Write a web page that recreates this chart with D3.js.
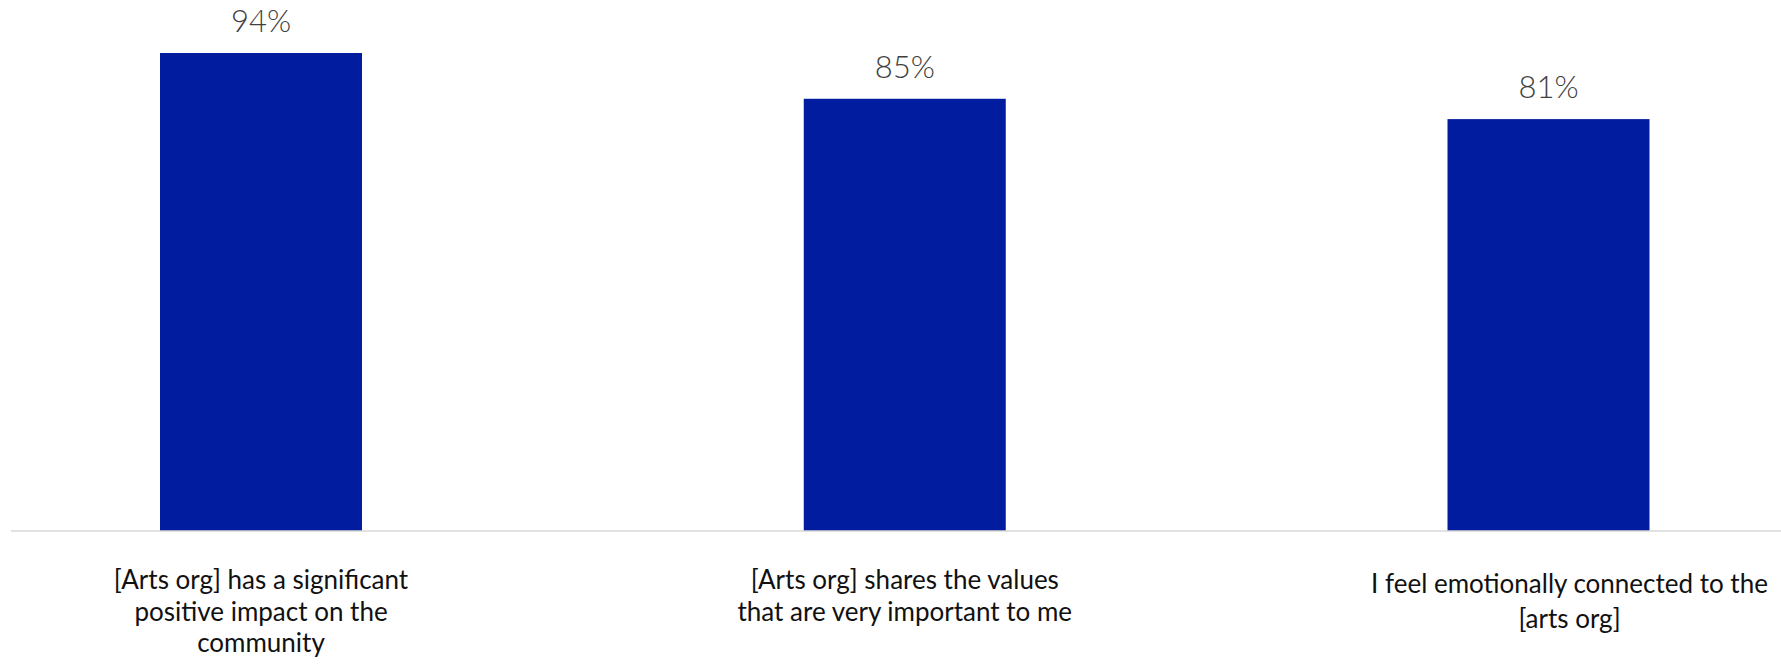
<!DOCTYPE html>
<html>
<head>
<meta charset="utf-8">
<script src="https://cdn.jsdelivr.net/npm/d3@7"></script>
<style>
  html, body { margin: 0; padding: 0; background: #fff; }
  svg { display: block; }
</style>
</head>
<body>
<div id="chart"></div>
<script>
// categories (line breaks as in the source)
const categories = [
  "[Arts org] has a significant\npositive impact on the\ncommunity",
  "[Arts org] shares the values\nthat are very important to me",
  "I feel emotionally connected to the\n[arts org]"
];
// share agreeing, in %
const values = [94, 85, 81];
const valueLabels = ["94%", "85%", "81%"];

const width = 1781, height = 665;
const barWidth = 202;
const baseY = 531;

const svg = d3.select("#chart").append("svg")
  .attr("width", width)
  .attr("height", height);

// bar centres
const x = d3.scalePoint()
  .domain(categories)
  .range([261, 1548.5]);

const y = d3.scaleLinear()
  .domain([0, 100])
  .range([baseY, baseY - 508.5]);

// bars
svg.append("g").selectAll("rect")
  .data(values)
  .enter()
  .append("rect")
  .attr("x", (d, i) => x(categories[i]) - barWidth / 2)
  .attr("y", d => y(d))
  .attr("width", barWidth)
  .attr("height", d => y(0) - y(d))
  .attr("fill", "#021ca0");

// baseline
svg.append("line")
  .attr("x1", 11).attr("x2", width)
  .attr("y1", y(0)).attr("y2", y(0))
  .attr("stroke", "#d9d9d9")
  .attr("stroke-width", 1.5);

// value labels
svg.append("g").selectAll("text")
  .data(values)
  .enter()
  .append("text")
  .attr("x", (d, i) => x(categories[i]))
  .attr("y", d => y(d) - 21)
  .attr("text-anchor", "middle")
  .attr("font-family", "Lato, sans-serif")
  .attr("font-weight", 300)
  .attr("font-size", "31px")
  .attr("fill", "#404040")
  .text((d, i) => valueLabels[i]);

// category labels
const labelG = svg.append("g");
categories.forEach(function (c, i) {
  const last = i === categories.length - 1;
  const t = labelG.append("text")
    .attr("text-anchor", "middle")
    .attr("font-family", "Lato, sans-serif")
    .attr("font-size", "26px")
    .attr("fill", "#111")
    .attr("transform", "translate(" + (x(c) + (last ? 21 : 0)) + "," + (last ? 593 : 589) + ")");
  c.split("\n").forEach(function (line, j) {
    t.append("tspan")
      .attr("x", 0)
      .attr("y", j * (last ? 35 : 31.5))
      .text(line);
  });
});
</script>
</body>
</html>
